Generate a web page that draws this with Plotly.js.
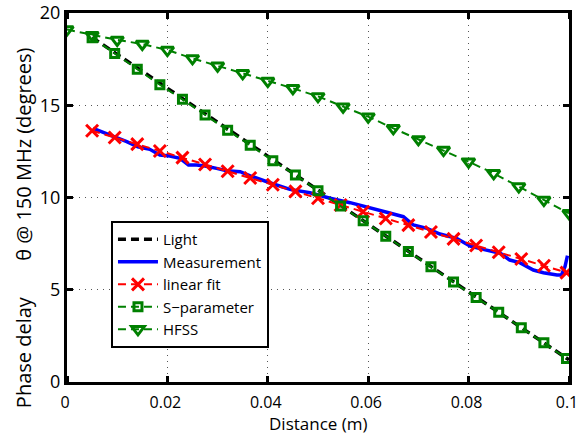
<!DOCTYPE html>
<html>
<head>
<meta charset="utf-8">
<script src="https://cdn.plot.ly/plotly-3.0.1.min.js"></script>
<style>html,body{margin:0;padding:0;background:#fff;}#chart{width:579px;height:434px;}</style>
</head>
<body>
<div id="chart"></div>
<script>
// Light (speed-of-light reference line)
const lightX = [0.005, 0.1];
const lightY = [18.68, 1.2];

// Measurement
const measX = [0.0052, 0.0096, 0.0119, 0.0141, 0.0165, 0.0185, 0.0205, 0.0225, 0.0242, 0.0258, 0.0275, 0.0298, 0.0318, 0.0345, 0.0365, 0.0404, 0.0444, 0.0484, 0.0524, 0.0564, 0.059, 0.061, 0.0637, 0.067, 0.069, 0.0717, 0.0743, 0.0776, 0.0803, 0.0829, 0.0863, 0.0882, 0.0902, 0.0929, 0.0949, 0.0976, 0.0985, 0.0992, 0.0997];
const measY = [13.75, 13.30, 13.03, 12.75, 12.61, 12.30, 12.25, 12.12, 11.76, 11.76, 11.71, 11.58, 11.45, 11.40, 11.17, 10.80, 10.44, 10.26, 9.96, 9.72, 9.55, 9.38, 9.20, 8.96, 8.51, 8.33, 8.02, 7.79, 7.37, 7.19, 6.98, 6.61, 6.47, 6.07, 5.92, 5.80, 5.80, 6.25, 6.85];

// Linear fit and S-parameter share the sample positions
const sampX = [0.005, 0.0095, 0.014, 0.0185, 0.023, 0.0275, 0.032, 0.0365, 0.041, 0.0455, 0.05, 0.0545, 0.059, 0.0635, 0.068, 0.0725, 0.077, 0.0815, 0.086, 0.0905, 0.095, 0.0995];
const fitY = [13.62, 13.25, 12.89, 12.52, 12.16, 11.79, 11.42, 11.06, 10.69, 10.33, 9.96, 9.59, 9.23, 8.86, 8.50, 8.13, 7.76, 7.40, 7.03, 6.67, 6.30, 5.93];
const sparY = [18.66, 17.81, 16.95, 16.11, 15.32, 14.47, 13.64, 12.83, 11.99, 11.22, 10.37, 9.54, 8.74, 7.90, 7.07, 6.25, 5.42, 4.58, 3.78, 2.94, 2.13, 1.28];

// HFSS
const hfssX = [0, 0.005, 0.01, 0.015, 0.02, 0.025, 0.03, 0.035, 0.04, 0.045, 0.05, 0.055, 0.06, 0.065, 0.07, 0.075, 0.08, 0.085, 0.09, 0.095, 0.1];
const hfssY = [19.1, 18.8, 18.54, 18.32, 17.99, 17.54, 17.14, 16.73, 16.31, 15.92, 15.48, 14.92, 14.38, 13.75, 13.15, 12.57, 11.94, 11.31, 10.59, 9.86, 9.14];

// Tick labels
const xTicks = [0, 0.02, 0.04, 0.06, 0.08, 0.1];
const xTickText = ['0', '0.02', '0.04', '0.06', '0.08', '0.1'];
const yTicks = [0, 5, 10, 15, 20];
const yTickText = ['0', '5', '10', '15', '20'];

const xTitle = 'Distance (m)';
const yTitle = 'Phase delay\u00a0\u00a0\u00a0\u00a0\u00a0\u00a0\u00a0\u03b8 @ 150 MHz (degrees)';

const green = '#008000';
const FONT = 'Open Sans, DejaVu Sans, sans-serif';

const traces = [
  {x: lightX, y: lightY, name: 'Light', mode: 'lines',
   line: {color: '#000', width: 3.5, dash: '8px,5px'}},
  {x: measX, y: measY, name: 'Measurement', mode: 'lines',
   line: {color: '#0000ff', width: 3.5}},
  {x: sampX, y: fitY, name: 'linear fit', mode: 'lines+markers',
   line: {color: '#ff0000', width: 2, dash: '8px,5px'},
   marker: {symbol: 'x-thin-open', size: 12, line: {color: '#ff0000', width: 3}}},
  {x: sampX, y: sparY, name: 'S\u2212parameter', mode: 'lines+markers',
   line: {color: green, width: 2, dash: '8px,5px'},
   marker: {symbol: 'square-open', size: 8, color: green, line: {color: green, width: 3}}},
  {x: hfssX, y: hfssY, name: 'HFSS', mode: 'lines+markers',
   line: {color: green, width: 2, dash: '8px,5px'},
   marker: {symbol: 'triangle-down-open', size: 11, color: green, line: {color: green, width: 3}}}
];

const axisCommon = {
  showline: true, linecolor: '#000', linewidth: 3, mirror: 'allticks',
  ticks: 'inside', ticklen: 6, tickwidth: 3, tickcolor: '#000',
  showgrid: true, gridcolor: '#555', gridwidth: 1, griddash: '1px,5px',
  zeroline: false, ticklabeloverflow: 'allow', automargin: false,
  tickfont: {family: FONT, size: 18, color: '#000'}
};

const layout = {
  width: 579, height: 434,
  margin: {l: 67, r: 10, t: 13, b: 52, pad: 0},
  paper_bgcolor: '#fff', plot_bgcolor: '#fff',
  font: {family: FONT, color: '#000'},
  xaxis: Object.assign({}, axisCommon, {
    range: [0, 0.1], tickvals: xTicks, ticktext: xTickText,
    ticks: 'outside', ticklen: 4, tickcolor: 'rgba(0,0,0,0)',
    minor: {ticks: 'inside', tickmode: 'array', tickvals: xTicks, ticklen: 6, tickwidth: 3,
            tickcolor: '#000', showgrid: false},
    ticklabelshift: -2,
    tickfont: {family: FONT, size: 16, color: '#000'}
  }),
  yaxis: Object.assign({}, axisCommon, {
    range: [0, 20], tickvals: yTicks, ticktext: yTickText
  }),
  annotations: [
    {text: xTitle, xref: 'paper', yref: 'paper', x: 0.5, y: 0, xanchor: 'center', yanchor: 'middle',
     yshift: -41, showarrow: false, font: {family: FONT, size: 17, color: '#000'}},
    {text: yTitle, xref: 'paper', yref: 'paper', x: 0, y: 0.417, xanchor: 'center', yanchor: 'middle',
     xshift: -44, textangle: -90, showarrow: false, font: {family: FONT, size: 20, color: '#000'}}
  ],
  showlegend: true,
  legend: {
    x: 0.0876, y: 0.436, xanchor: 'left', yanchor: 'top',
    bgcolor: '#fff', bordercolor: '#000', borderwidth: 2,
    font: {family: FONT, size: 15, color: '#000'},
    tracegroupgap: 0, itemwidth: 40
  }
};

Plotly.newPlot('chart', traces, layout, {displayModeBar: false, staticPlot: true});
</script>
</body>
</html>
